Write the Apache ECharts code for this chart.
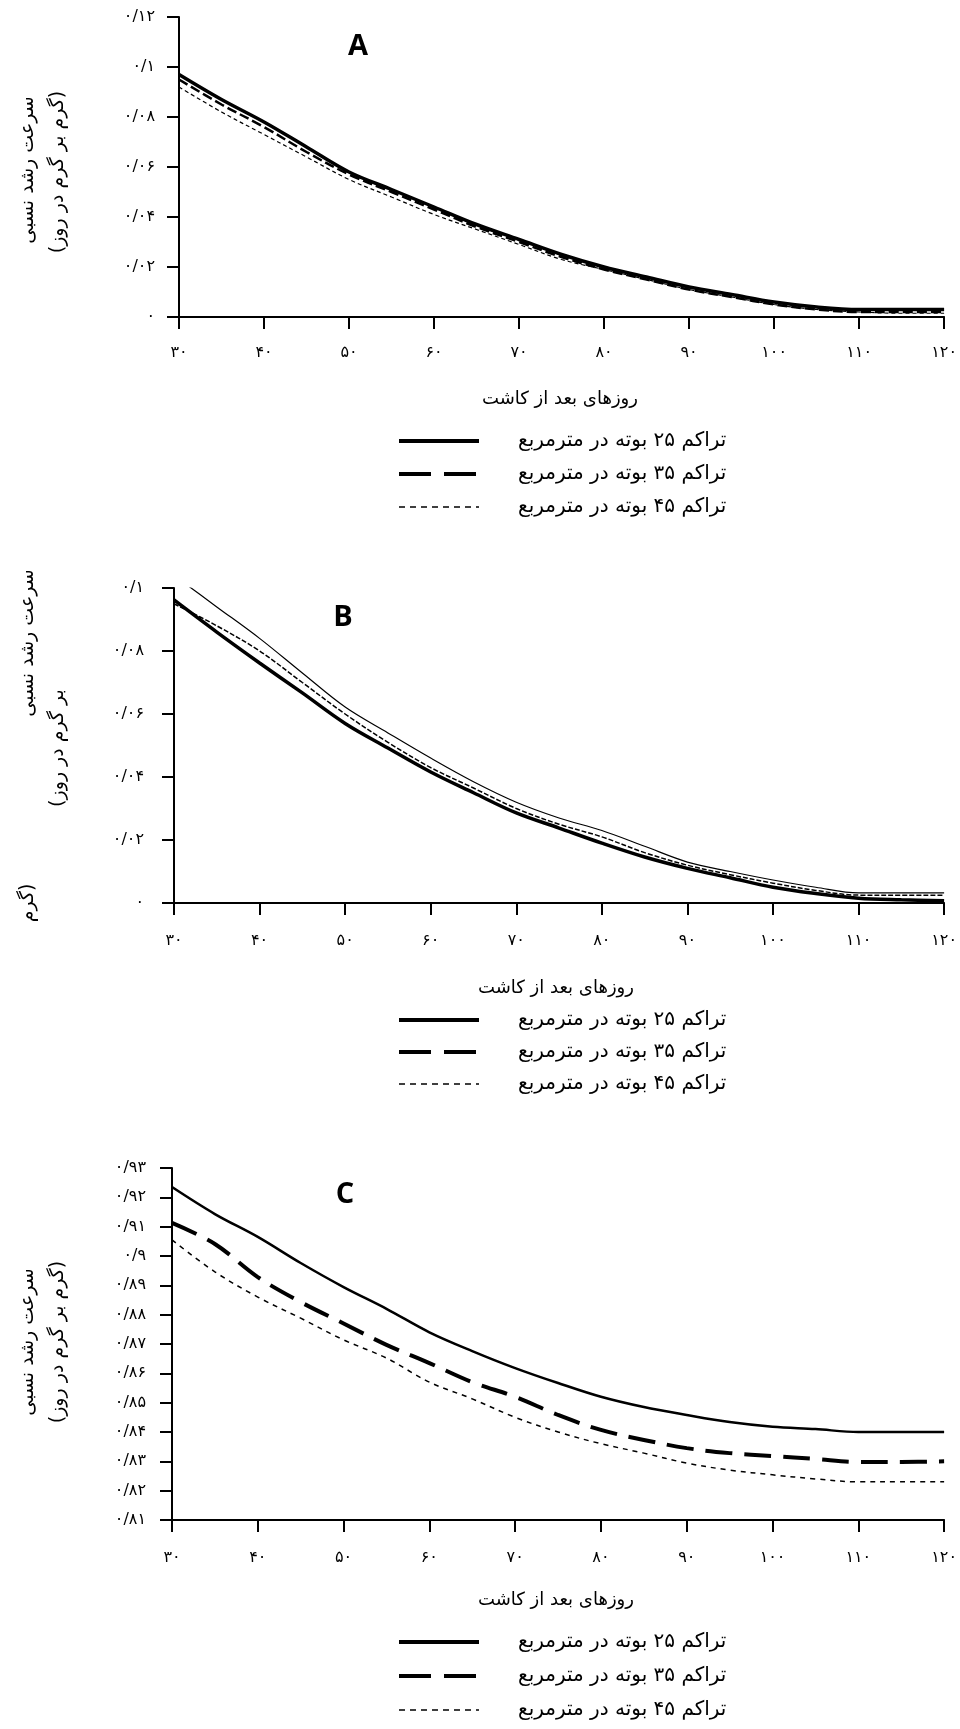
<!DOCTYPE html>
<html>
<head>
<meta charset="utf-8">
<script src="https://cdn.jsdelivr.net/npm/echarts@6/dist/echarts.min.js"></script>
<style>
html,body{margin:0;padding:0;background:#fff;}
#chart{width:960px;height:1729px;}
</style>
</head>
<body>
<div id="chart"></div>
<script>
// ---------- data ----------
const days = [30,35,40,45,50,55,60,65,70,75,80,85,90,95,100,105,110,115,120];
const seriesNames = ['تراکم ۲۵ بوته در مترمربع', 'تراکم ۳۵ بوته در مترمربع', 'تراکم ۴۵ بوته در مترمربع'];

// Chart A
const a25 = [0.097,0.087,0.078,0.068,0.058,0.051,0.044,0.037,0.031,0.025,0.020,0.016,0.012,0.009,0.006,0.004,0.003,0.003,0.003];
const a35 = [0.095,0.085,0.076,0.066,0.057,0.050,0.043,0.036,0.030,0.024,0.019,0.015,0.011,0.008,0.005,0.003,0.002,0.002,0.002];
const a45 = [0.092,0.082,0.073,0.064,0.055,0.048,0.041,0.035,0.029,0.023,0.019,0.015,0.011,0.008,0.005,0.003,0.002,0.0015,0.0015];
// Chart B
const b25 = [0.0962,0.086,0.0762,0.0667,0.057,0.0492,0.0416,0.035,0.0286,0.0238,0.019,0.0146,0.011,0.008,0.005,0.003,0.0015,0.001,0.0007];
const b35 = [0.095,0.088,0.080,0.070,0.060,0.051,0.043,0.0365,0.030,0.025,0.021,0.016,0.012,0.009,0.0063,0.004,0.0025,0.0025,0.0025];
const b45 = [0.104,0.094,0.084,0.073,0.0622,0.054,0.046,0.0385,0.032,0.027,0.023,0.018,0.013,0.010,0.0073,0.005,0.0032,0.0032,0.0032];
// Chart C
const c25 = [0.9235,0.9143,0.9065,0.8976,0.8894,0.882,0.874,0.8676,0.8618,0.8567,0.852,0.8485,0.8458,0.8434,0.8418,0.841,0.840,0.840,0.840];
const c35 = [0.9113,0.9041,0.8928,0.8843,0.877,0.8697,0.8635,0.857,0.852,0.8458,0.8407,0.8373,0.8345,0.8328,0.8318,0.8308,0.8298,0.8298,0.830];
const c45 = [0.9055,0.8946,0.886,0.8788,0.8714,0.8652,0.857,0.8513,0.845,0.840,0.836,0.8328,0.8294,0.827,0.8254,0.824,0.823,0.823,0.823];

// tick labels
const xTickLabels = ['۳۰','۴۰','۵۰','۶۰','۷۰','۸۰','۹۰','۱۰۰','۱۱۰','۱۲۰'];
const yTicksA = ['۰','۰/۰۲','۰/۰۴','۰/۰۶','۰/۰۸','۰/۱','۰/۱۲'];
const yTicksB = ['۰','۰/۰۲','۰/۰۴','۰/۰۶','۰/۰۸','۰/۱'];
const yTicksC = ['۰/۸۱','۰/۸۲','۰/۸۳','۰/۸۴','۰/۸۵','۰/۸۶','۰/۸۷','۰/۸۸','۰/۸۹','۰/۹','۰/۹۱','۰/۹۲','۰/۹۳'];

const xTitle = 'روزهای بعد از کاشت';
const yTitle1 = 'سرعت رشد نسبی';
const yTitle2 = '\u200F(گرم بر گرم در روز)\u200F';
const yTitle2B = '\u200Fبر گرم در روز)\u200F';
const yTitle2Bfrag = '\u200F(گرم\u200F';
const panelLetters = ['A','B','C'];

// ---------- chart ----------
const FONT = '"DejaVu Sans", sans-serif';
const BLACK = '#000';
const chart = echarts.init(document.getElementById('chart'), null, {renderer:'canvas'});

const grids = [
  {left:179, top:17, width:771, height:300},
  {left:174, top:588, width:781, height:315},
  {left:172, top:1168, width:786, height:352}
];

function xAxisFor(i, margin){
  return {
    gridIndex:i, type:'value', min:30, max:120, interval:10,
    axisLine:{show:true, lineStyle:{color:BLACK, width:2}},
    axisTick:{show:true, length:12, lineStyle:{color:BLACK, width:2}},
    axisLabel:{margin:margin, color:BLACK, fontSize:16, fontFamily:FONT,
      formatter:v => xTickLabels[Math.round((v-30)/10)]},
    splitLine:{show:false}
  };
}
function yAxisFor(i, min, max, interval, labels, margin){
  return {
    gridIndex:i, type:'value', min:min, max:max, interval:interval,
    axisLine:{show:true, lineStyle:{color:BLACK, width:2}},
    axisTick:{show:true, length:12, lineStyle:{color:BLACK, width:2}},
    axisLabel:{margin:margin, color:BLACK, fontSize:16, fontFamily:FONT,
      formatter:v => labels[Math.round((v-min)/interval)]},
    splitLine:{show:false}
  };
}

function mk(name, gi, vals, lineStyle){
  return {
    name:name, type:'line', xAxisIndex:gi, yAxisIndex:gi,
    data:days.map((d,k)=>[d, vals[k]]),
    symbol:'none', showSymbol:false, smooth:0.35,
    itemStyle:{color:BLACK},
    lineStyle:Object.assign({color:BLACK}, lineStyle),
    silent:true, animation:false, clip:true
  };
}

const series = [
  mk(seriesNames[0],0,a25,{width:3.5, type:'solid'}),
  mk(seriesNames[1],0,a35,{width:2.5, type:[10,4]}),
  mk(seriesNames[2],0,a45,{width:1.2, type:[4,3]}),
  mk(seriesNames[0],1,b25,{width:3.5, type:'solid'}),
  mk(seriesNames[1],1,b35,{width:1.5, type:[5,2]}),
  mk(seriesNames[2],1,b45,{width:1.2, type:'solid'}),
  mk(seriesNames[0],2,c25,{width:2.5, type:'solid'}),
  mk(seriesNames[1],2,c35,{width:4, type:[27,12]}),
  mk(seriesNames[2],2,c45,{width:1.5, type:[5,5]})
];

const hiddenSym = {color:'rgba(0,0,0,0)', borderColor:'rgba(0,0,0,0)', borderWidth:0, opacity:0};
const legendData = [
  {name:seriesNames[0], itemStyle:hiddenSym, lineStyle:{width:4, type:'solid', color:BLACK}},
  {name:seriesNames[1], itemStyle:hiddenSym, lineStyle:{width:4, type:[32,13], color:BLACK}},
  {name:seriesNames[2], itemStyle:hiddenSym, lineStyle:{width:1.5, type:[6,5], color:BLACK}}
];
function legendFor(top, gap){
  return {
    orient:'vertical', left:397, top:top, itemWidth:80, itemHeight:20, itemGap:gap,
    padding:0, selectedMode:false, data:legendData, itemStyle:hiddenSym,
    textStyle:{color:BLACK, fontSize:20, fontFamily:FONT, padding:[0,0,0,34], lineHeight:20}
  };
}

function rotText(text, x, y){
  return {type:'text', x:x, y:y, rotation:Math.PI/2, silent:true,
    style:{text:text, fill:BLACK, font:'19px ' + FONT, align:'center', verticalAlign:'middle',
      textAlign:'center', textVerticalAlign:'middle'}};
}
function plainText(text, x, y, font){
  return {type:'text', x:x, y:y, silent:true,
    style:{text:text, fill:BLACK, font:font, align:'center', verticalAlign:'middle',
      textAlign:'center', textVerticalAlign:'middle'}};
}

const graphic = [
  plainText(panelLetters[0], 358, 47, 'bold 29px "Open Sans", sans-serif'),
  plainText(panelLetters[1], 343, 618, 'bold 29px "Open Sans", sans-serif'),
  plainText(panelLetters[2], 345, 1195, 'bold 29px "Open Sans", sans-serif'),
  plainText(xTitle, 560, 399, '18px ' + FONT),
  plainText(xTitle, 556, 988, '18px ' + FONT),
  plainText(xTitle, 556, 1600, '18px ' + FONT),
  rotText(yTitle1, 28, 170),
  rotText(yTitle2, 58, 172),
  rotText(yTitle1, 28, 643),
  rotText(yTitle2B, 58, 748),
  rotText(yTitle2Bfrag, 28, 903),
  rotText(yTitle1, 28, 1342),
  rotText(yTitle2, 58, 1342)
];

chart.setOption({
  animation:false,
  backgroundColor:'#fff',
  grid:grids,
  xAxis:[xAxisFor(0,28), xAxisFor(1,30), xAxisFor(2,30)],
  yAxis:[
    yAxisFor(0,0,0.12,0.02,yTicksA,24),
    yAxisFor(1,0,0.1,0.02,yTicksB,30),
    yAxisFor(2,0.81,0.93,0.01,yTicksC,26)
  ],
  legend:[legendFor(431,13), legendFor(1010,12), legendFor(1632,14)],
  series:series,
  graphic:graphic
});
</script>
</body>
</html>
